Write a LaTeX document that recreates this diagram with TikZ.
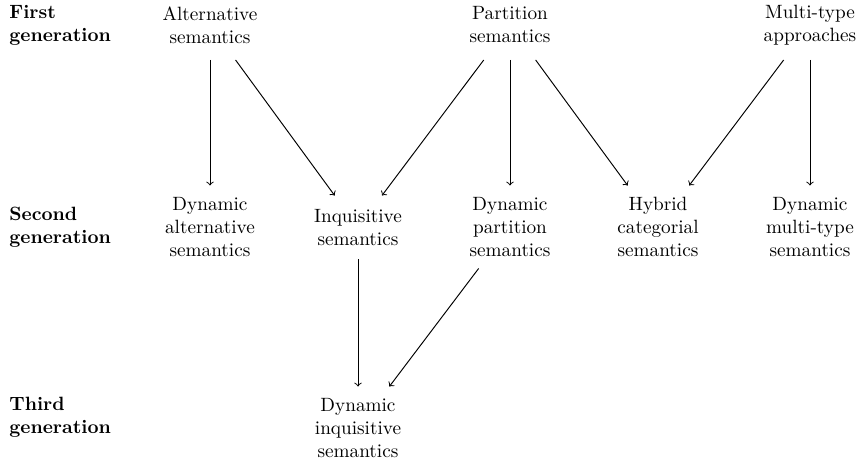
\documentclass[tikz,border=0pt]{standalone}
\begin{document}
\begin{tikzpicture}[x=0.52pt,y=-0.52pt,
  lab/.style={align=center, inner sep=0pt, outer sep=0pt},
  two/.style={lab, minimum height=70*0.52pt},
  twob/.style={lab, minimum height=64*0.52pt},
  three/.style={lab, minimum height=83*0.52pt},
  gen/.style={align=left, anchor=west, inner sep=0pt, font=\bfseries},
  arr/.style={->, line width=0.5pt}]
\useasboundingbox (0,0) rectangle (858,464);
\node[gen] (g1) at (9,25) {First\\generation};
\node[gen] (g2) at (9,227) {Second\\generation};
\node[gen] (g3) at (9,417) {Third\\generation};
\node[two] (alt) at (210,25) {Alternative\\semantics};
\node[two] (part) at (510,25) {Partition\\semantics};
\node[two] (multi) at (810,25) {Multi-type\\approaches};
\node[three] (dalt) at (210,227) {Dynamic\\alternative\\semantics};
\node[twob] (inq) at (358,227.5) {Inquisitive\\semantics};
\node[three] (dpart) at (510,227) {Dynamic\\partition\\semantics};
\node[three] (hyb) at (658,227) {Hybrid\\categorial\\semantics};
\node[three] (dmulti) at (810,227) {Dynamic\\multi-type\\semantics};
\node[three] (dinq) at (358,428) {Dynamic\\inquisitive\\semantics};
\draw[arr] (alt) -- (dalt);
\draw[arr] (alt) -- (inq);
\draw[arr] (part) -- (inq);
\draw[arr] (part) -- (dpart);
\draw[arr] (part) -- (hyb);
\draw[arr] (multi) -- (hyb);
\draw[arr] (multi) -- (dmulti);
\draw[arr] (inq) -- (dinq);
\draw[arr] (dpart) -- (dinq);
\end{tikzpicture}
\end{document}
